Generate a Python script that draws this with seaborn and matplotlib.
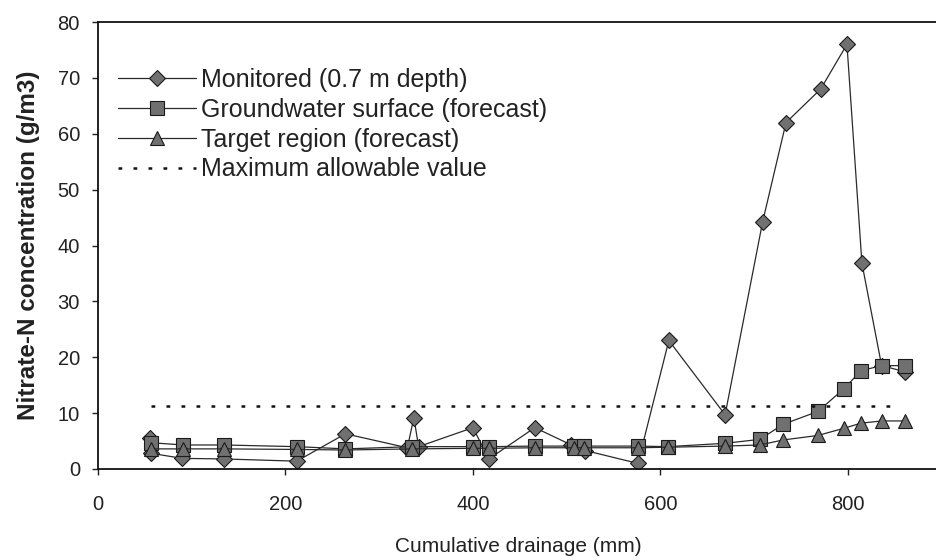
import matplotlib
matplotlib.use("Agg")
import matplotlib.pyplot as plt
import seaborn as sns
import pandas as pd

# ---- data ----
mon_x = [55, 57, 90, 134, 212, 264, 330, 337, 342, 400, 417, 466, 505, 520, 576, 609, 669, 709, 734, 771, 799, 815, 836, 861]
mon_y = [5.6, 2.8, 1.9, 1.8, 1.4, 6.3, 3.8, 9.2, 4.0, 7.4, 1.8, 7.4, 4.3, 3.3, 1.0, 23.0, 9.7, 44.2, 62.0, 68.0, 76.0, 36.8, 18.5, 17.4]

gw_x = [57, 91, 134, 212, 264, 335, 400, 417, 466, 508, 518, 576, 608, 669, 706, 731, 768, 796, 814, 836, 861]
gw_y = [4.7, 4.3, 4.3, 4.0, 3.6, 4.0, 4.0, 4.0, 4.1, 4.1, 4.1, 4.1, 4.0, 4.6, 5.3, 8.0, 10.3, 14.4, 17.6, 18.5, 18.5]

tg_x = gw_x
tg_y = [3.6, 3.6, 3.6, 3.5, 3.4, 3.6, 3.7, 3.7, 3.8, 3.8, 3.8, 3.8, 3.9, 4.1, 4.3, 5.2, 6.0, 7.3, 8.2, 8.6, 8.6]

mav_x = [57, 855]
mav_y = [11.3, 11.3]

labels = ["Monitored (0.7 m depth)", "Groundwater surface (forecast)",
          "Target region (forecast)", "Maximum allowable value"]
xticks = [0, 200, 400, 600, 800]
yticks = [0, 10, 20, 30, 40, 50, 60, 70, 80]

# ---- style ----
sns.set_style("ticks")
plt.rcParams["font.family"] = ["Liberation Sans", "DejaVu Sans"]

fig = plt.figure(figsize=(9.36, 5.6), dpi=100)
ax = fig.add_axes([98 / 936, 1 - 469 / 560, 1 - 98 / 936 + 0.002, (469 - 22) / 560])

fill = "#707070"
edge = "#1a1a1a"
lc = "#2a2a2a"

sns.lineplot(x=mon_x, y=mon_y, sort=False, estimator=None, ax=ax, color=lc, lw=0.9,
             marker="D", markersize=8, markerfacecolor=fill, markeredgecolor=edge,
             markeredgewidth=0.8, label=labels[0])
sns.lineplot(x=gw_x, y=gw_y, sort=False, estimator=None, ax=ax, color=lc, lw=0.9,
             marker="s", markersize=10.5, markerfacecolor=fill, markeredgecolor=edge,
             markeredgewidth=0.8, label=labels[1])
sns.lineplot(x=tg_x, y=tg_y, sort=False, estimator=None, ax=ax, color=lc, lw=0.9,
             marker="^", markersize=10, markerfacecolor=fill, markeredgecolor=edge,
             markeredgewidth=0.8, label=labels[2])
sns.lineplot(x=mav_x, y=mav_y, sort=False, estimator=None, ax=ax, color="#111111",
             lw=1.8, dashes=False, label=labels[3])
ax.lines[-1].set_dashes((1.5, 4.5))

ax.set_xlim(0, 896)
ax.set_ylim(0, 80)
ax.set_xticks(xticks)
ax.set_yticks(yticks)
ax.tick_params(axis="x", direction="out", length=4, width=1, pad=15, labelsize=14.5, colors="#222222")
ax.tick_params(axis="y", direction="out", length=4, width=1, pad=9, labelsize=14.5, colors="#222222")

for s in ["left", "bottom", "top"]:
    ax.spines[s].set_visible(True)
    ax.spines[s].set_linewidth(1.3)
    ax.spines[s].set_color("#111111")
ax.spines["right"].set_visible(False)

ax.set_xlabel("Cumulative drainage (mm)", fontsize=15, color="#222222", labelpad=16)
ax.set_ylabel("Nitrate-N concentration (g/m3)", fontsize=17.5, fontweight="bold",
              color="#222222", labelpad=13)

handles, labs = ax.get_legend_handles_labels()
leg = ax.legend(handles, labs, loc="upper left", bbox_to_anchor=(0.024, 0.897),
                frameon=False, fontsize=18, handlelength=3.1, handletextpad=0.2,
                borderpad=0, borderaxespad=0, labelspacing=0.23)
for t in leg.get_texts():
    t.set_color("#222222")

fig.savefig("out.png", dpi=100)
